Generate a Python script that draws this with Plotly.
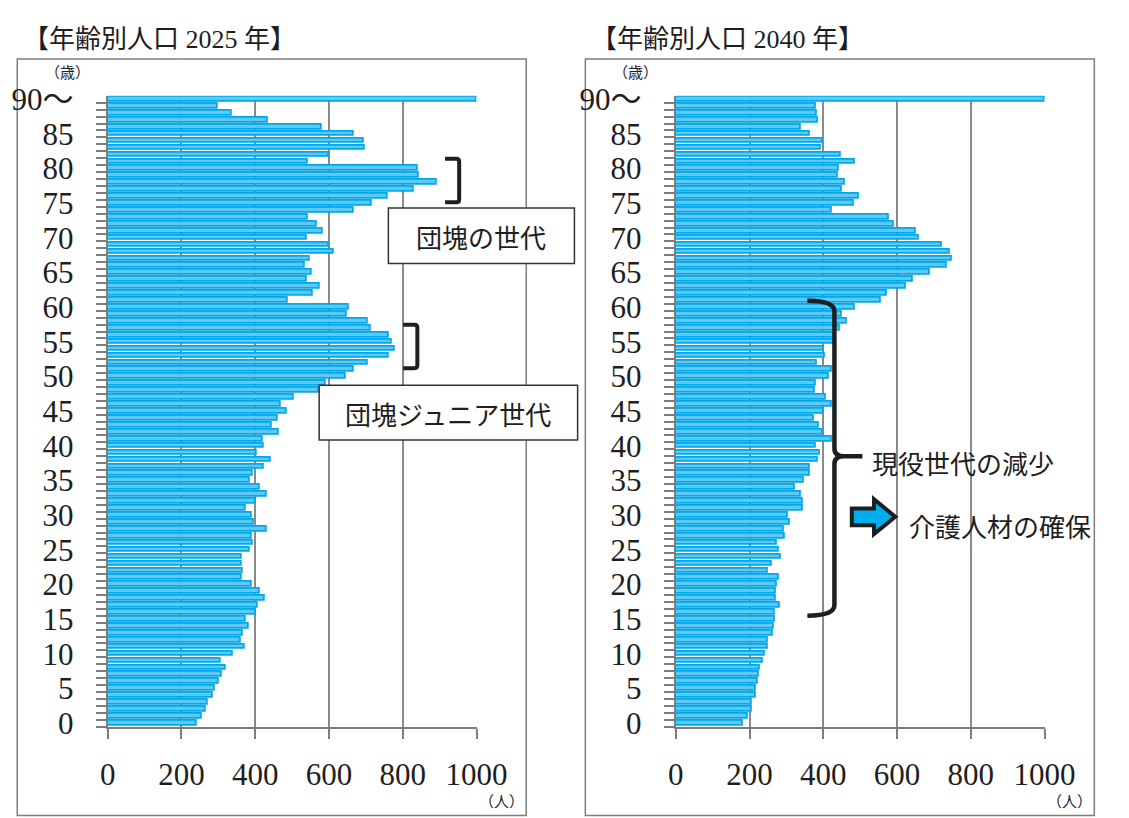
import plotly.graph_objects as go

# Population by single year of age (0 .. 90+), people
ages = list(range(0, 91))
pop_2025 = [241, 254, 266, 272, 285, 290, 300, 310, 320, 307,
            338, 372, 360, 366, 382, 375, 402, 406, 426, 411,
            391, 364, 367, 363, 364, 386, 394, 390, 431, 395,
            390, 373, 402, 432, 411, 384, 394, 422, 442, 403,
            423, 421, 463, 446, 462, 485, 468, 504, 571, 592,
            645, 668, 706, 761, 779, 771, 761, 713, 705, 648,
            653, 487, 555, 576, 539, 552, 535, 548, 612, 600,
            539, 583, 566, 543, 666, 716, 759, 829, 893, 844,
            840, 543, 600, 698, 694, 668, 580, 435, 335, 299,
            1000]
pop_2040 = [181, 194, 205, 207, 216, 217, 223, 226, 229, 235,
            242, 249, 249, 263, 267, 269, 268, 282, 272, 271,
            274, 278, 249, 259, 284, 278, 275, 296, 293, 308,
            303, 344, 343, 339, 323, 346, 364, 362, 386, 390,
            379, 423, 399, 388, 373, 402, 422, 406, 378, 380,
            414, 423, 381, 404, 401, 432, 428, 446, 463, 449,
            486, 556, 573, 623, 642, 689, 734, 749, 743, 720,
            660, 650, 590, 578, 423, 482, 497, 450, 458, 439,
            441, 485, 448, 392, 399, 364, 338, 386, 383, 379,
            1000]

age_ticks = list(range(0, 91, 5))
age_labels = [str(a) for a in age_ticks[:-1]] + ["90〜"]
x_ticks = [0, 200, 400, 600, 800, 1000]

titles = ["【年齢別人口 2025 年】", "【年齢別人口 2040 年】"]

W, H = 1129, 818
SERIF = "Liberation Serif, Noto Sans CJK JP"
SANS = "Noto Sans CJK JP"
GRAY = "#7d7d7d"
INK = "#1e1e1e"


def px(x):
    return x / W


def py(y):
    return 1 - y / H


def path(points, close=False):
    d = ""
    for cmd, *coords in points:
        pairs = [f"{px(coords[i]):.5f},{py(coords[i + 1]):.5f}" for i in range(0, len(coords), 2)]
        d += cmd + " " + " ".join(pairs) + " "
    return d + ("Z" if close else "")


fig = go.Figure()

for i, pop in enumerate([pop_2025, pop_2040]):
    sfx = "" if i == 0 else "2"
    fig.add_trace(go.Bar(
        x=pop, y=ages, orientation="h", width=0.68,
        marker=dict(color="#5EC9F2", line=dict(color="#00A8EC", width=1.8)),
        xaxis="x" + sfx, yaxis="y" + sfx, showlegend=False,
    ))

# Panel geometry in pixels: plot-area left/right
panels = [(103.3, 485.3), (691.7, 1073.7)]
y_top, y_bot = 84.7, 737.9

axis_common = dict(
    showline=True, linecolor=GRAY, linewidth=2,
    zeroline=False, fixedrange=True,
)
layout = dict(
    autosize=True,
    margin=dict(l=0, r=0, t=0, b=0, pad=0),
    plot_bgcolor="white", paper_bgcolor="white",
    bargap=0,
)
for i, (xl, xr) in enumerate(panels):
    sfx = "" if i == 0 else "2"
    layout["xaxis" + sfx] = dict(
        domain=[px(xl), px(xr)], range=[0, 1000], anchor="y" + sfx,
        tickmode="array", tickvals=x_ticks, ticktext=[str(v) for v in x_ticks],
        ticks="outside", ticklen=10, tickwidth=2, tickcolor=GRAY,
        showgrid=True, gridcolor="#8a8a8a", gridwidth=2,
        tickfont=dict(family=SERIF, size=31, color=INK),
        ticklabelstandoff=9,
        **axis_common,
    )
    layout["yaxis" + sfx] = dict(
        domain=[py(y_bot), py(y_top)], range=[-0.5, 90.5], anchor="x" + sfx,
        tickmode="array", tickvals=age_ticks, ticktext=age_labels,
        ticks="", showgrid=False,
        minor=dict(tickvals=[a - 0.5 for a in ages], ticks="outside",
                   ticklen=10, tickwidth=2, tickcolor=GRAY, showgrid=False),
        tickfont=dict(family=SERIF, size=31, color=INK),
        ticklabelstandoff=26,
        **axis_common,
    )
fig.update_layout(**layout)

shapes = []
annotations = []

# Outer frames and titles of the two panels
for i, dx in enumerate([0, 588.4]):
    shapes.append(dict(type="rect", xref="paper", yref="paper",
                       x0=px(9.6 + dx), x1=px(536.8 + dx), y0=py(830), y1=py(46.7),
                       line=dict(color=GRAY, width=1.5), fillcolor="rgba(0,0,0,0)",
                       layer="below"))
    annotations.append(dict(text=titles[i], xref="paper", yref="paper",
                            x=px(13 + dx), y=py(26), xanchor="left", yanchor="middle",
                            showarrow=False, font=dict(family=SERIF, size=26, color=INK)))
    annotations.append(dict(text="（歳）", xref="paper", yref="paper",
                            x=px(62 + dx), y=py(61), xanchor="center", yanchor="middle",
                            showarrow=False, font=dict(family=SERIF, size=15, color=INK)))
    annotations.append(dict(text="（人）", xref="paper", yref="paper",
                            x=px(511 + dx), y=py(816), xanchor="center", yanchor="middle",
                            showarrow=False, font=dict(family=SERIF, size=15, color=INK)))

# Closing brackets beside the two baby-boom peaks
for (xa, xb, ya, yb) in [(452.7, 467.3, 150, 195), (409.3, 424, 321.7, 366.7)]:
    shapes.append(dict(type="path", xref="paper", yref="paper",
                       path=path([("M", xa, ya), ("L", xb - 3, ya), ("Q", xb, ya, xb, ya + 3),
                                  ("L", xb, yb - 3), ("Q", xb, yb, xb - 3, yb), ("L", xa, yb)]),
                       line=dict(color=INK, width=4)))

# Labelled boxes
for (x0, x1, y0, y1, txt) in [(394, 586.7, 201, 258.3, "団塊の世代"),
                              (322.3, 590, 384.3, 441, "団塊ジュニア世代")]:
    shapes.append(dict(type="rect", xref="paper", yref="paper",
                       x0=px(x0), x1=px(x1), y0=py(y1), y1=py(y0),
                       fillcolor="white", line=dict(color="#333333", width=1.5)))
    annotations.append(dict(text=txt, xref="paper", yref="paper",
                            x=px((x0 + x1) / 2), y=py((y0 + y1) / 2 + 1),
                            xanchor="center", yanchor="middle", showarrow=False,
                            font=dict(family=SANS, size=26, color=INK)))

# Curly brace over the working-age span of 2040
shapes.append(dict(type="path", xref="paper", yref="paper",
                   path=path([("M", 828, 297), ("Q", 856, 297, 856, 308),
                              ("L", 856, 450), ("Q", 856, 458, 866, 458), ("L", 885, 458),
                              ("M", 866, 458), ("Q", 856, 458, 856, 466),
                              ("L", 856, 612), ("Q", 856, 623, 828, 623)]),
                   line=dict(color=INK, width=4.5)))
annotations.append(dict(text="現役世代の減少", xref="paper", yref="paper",
                        x=px(893), y=py(464), xanchor="left", yanchor="middle",
                        showarrow=False, font=dict(family=SANS, size=26, color=INK)))

# Block arrow
shapes.append(dict(type="path", xref="paper", yref="paper",
                   path=path([("M", 874, 512), ("L", 897, 512), ("L", 897, 502.5),
                              ("L", 919, 520.5), ("L", 897, 538.5), ("L", 897, 529.5),
                              ("L", 874, 529.5)], close=True),
                   fillcolor="#00AEEF", line=dict(color=INK, width=4)))
annotations.append(dict(text="介護人材の確保", xref="paper", yref="paper",
                        x=px(931), y=py(530), xanchor="left", yanchor="middle",
                        showarrow=False, font=dict(family=SANS, size=26, color=INK)))

fig.update_layout(shapes=shapes, annotations=annotations)

# Fill the window exactly: no body margin, no scrollbars
page_js = ("document.documentElement.style.margin='0';"
           "document.body.style.margin='0';"
           "document.body.style.overflow='hidden';"
           "document.documentElement.style.overflow='hidden';"
           "var gd=document.getElementById('{plot_id}');"
           "gd.style.width='100vw';gd.style.height='100vh';"
           "Plotly.Plots.resize(gd);")
fig.write_html("out.html", post_script=page_js,
               default_width="100vw", default_height="100vh")
